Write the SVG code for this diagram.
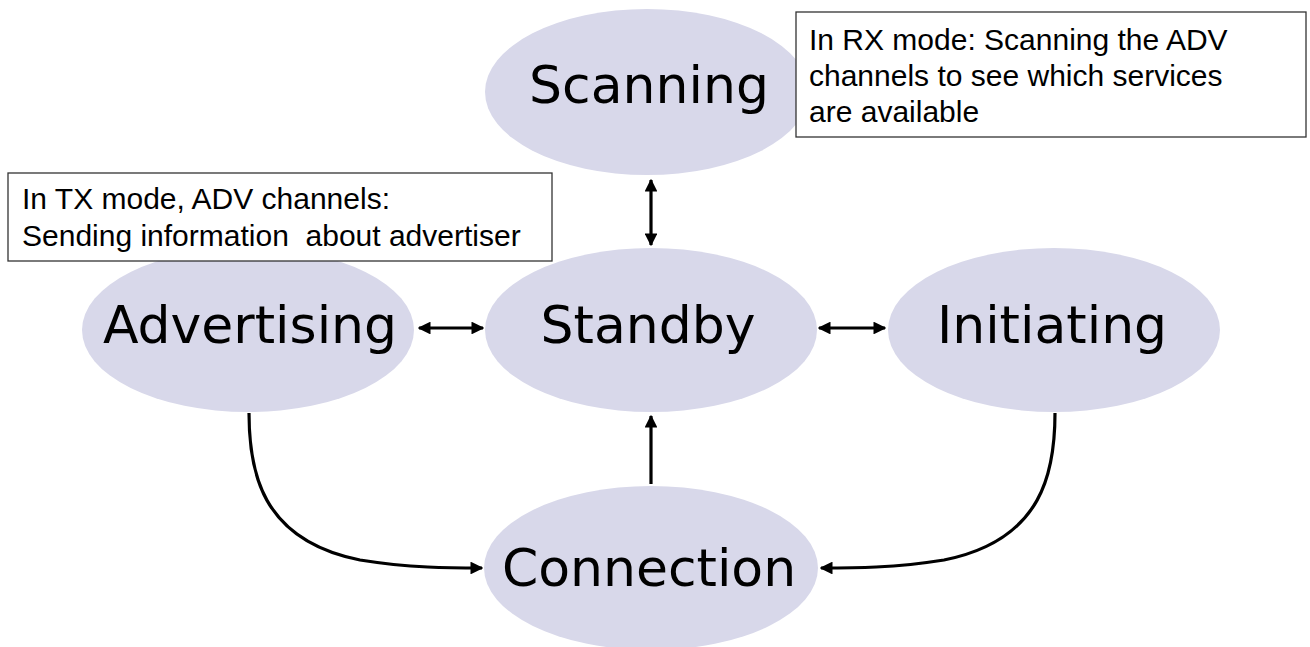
<svg xmlns="http://www.w3.org/2000/svg" width="1310" height="647" viewBox="0 0 1310 647">
  <style>
    .state { fill: #d8d8ea; }
    .state-label { font-family: "DejaVu Sans", sans-serif; font-size: 52px; fill: #000; text-anchor: middle; }
    .note-box { fill: #fff; stroke: #333; stroke-width: 1.3; }
    .note-text { font-family: "Liberation Sans", Arial, sans-serif; font-size: 30px; fill: #000; }
    .link { fill: none; stroke: #000; stroke-width: 3.2; }
  </style>
  <defs>
    <marker id="head" viewBox="0 0 10 10" refX="9" refY="5" markerWidth="4" markerHeight="4" orient="auto-start-reverse" markerUnits="strokeWidth">
      <path d="M0,0 L10,5 L0,10 z" fill="#000"/>
    </marker>
  </defs>
  <rect width="1310" height="647" fill="#fff"/>

  <g id="scanning">
    <ellipse class="state" cx="647" cy="92" rx="162" ry="83"/>
    <text class="state-label" x="649" y="103">Scanning</text>
  </g>
  <g id="standby">
    <ellipse class="state" cx="651" cy="330" rx="166" ry="82"/>
    <text class="state-label" x="648" y="343">Standby</text>
  </g>
  <g id="advertising">
    <ellipse class="state" cx="248" cy="330" rx="166" ry="82"/>
    <text class="state-label" x="250" y="343">Advertising</text>
  </g>
  <g id="initiating">
    <ellipse class="state" cx="1054" cy="330" rx="166" ry="82"/>
    <text class="state-label" x="1052" y="343">Initiating</text>
  </g>
  <g id="connection">
    <ellipse class="state" cx="651" cy="568" rx="167" ry="82"/>
    <text class="state-label" x="649" y="586">Connection</text>
  </g>

  <g id="note-rx">
    <rect class="note-box" x="796" y="12" width="510" height="125"/>
    <text class="note-text" x="809" y="50">In RX mode: Scanning the ADV</text>
    <text class="note-text" x="809" y="86">channels to see which services</text>
    <text class="note-text" x="809" y="122">are available</text>
  </g>
  <g id="note-tx">
    <rect class="note-box" x="8" y="173" width="544" height="88"/>
    <text class="note-text" x="22" y="209" xml:space="preserve">In TX mode, ADV channels:</text>
    <text class="note-text" x="22" y="246" xml:space="preserve">Sending information  about advertiser</text>
  </g>

  <g id="connectors">
    <line class="link" x1="651" y1="180" x2="651" y2="245" marker-start="url(#head)" marker-end="url(#head)"/>
    <line class="link" x1="419" y1="328" x2="483" y2="328" marker-start="url(#head)" marker-end="url(#head)"/>
    <line class="link" x1="819" y1="328" x2="885" y2="328" marker-start="url(#head)" marker-end="url(#head)"/>
    <line class="link" x1="651" y1="484" x2="651" y2="416" marker-end="url(#head)"/>
    <path class="link" d="M249,413 C249,470 260,540 360,560 C410,568 450,568 482,568" marker-end="url(#head)"/>
    <path class="link" d="M1055,413 C1055,470 1044,540 944,560 C894,568 854,568 821,568" marker-end="url(#head)"/>
  </g>
</svg>
